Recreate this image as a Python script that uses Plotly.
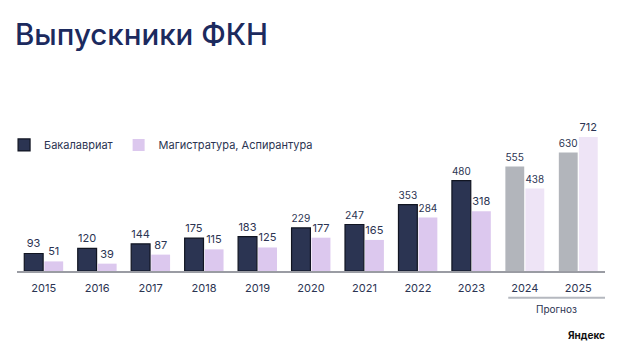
import plotly.graph_objects as go

years = ["2015", "2016", "2017", "2018", "2019", "2020", "2021", "2022", "2023", "2024", "2025"]
bachelor = [93, 120, 144, 175, 183, 229, 247, 353, 480, 555, 630]
master = [51, 39, 87, 115, 125, 177, 165, 284, 318, 438, 712]
forecast = [False] * 9 + [True] * 2

DARK = "#2b3452"
GREY = "#b2b5bb"
LAV = "#dcc8ee"
LAV_LIGHT = "#eee4f6"
TEXT = "#2b3452"
FONT = "Inter"

bach_colors = [GREY if f else DARK for f in forecast]
mast_colors = [LAV_LIGHT if f else LAV for f in forecast]
bach_lines = [0 if f else 1.2 for f in forecast]

fig = go.Figure()
fig.add_trace(go.Bar(
    x=years, y=bachelor, name="Бакалавриат",
    marker=dict(color=bach_colors, line=dict(color="#111522", width=bach_lines)),
    text=bachelor, textposition="outside", cliponaxis=False,
    textfont=dict(size=11, color=TEXT, family=FONT),
))
fig.add_trace(go.Bar(
    x=years, y=master, name="Магистратура, Аспирантура",
    marker=dict(color=mast_colors, line=dict(width=0)),
    text=master, textposition="outside", cliponaxis=False,
    textfont=dict(size=11, color=TEXT, family=FONT),
))

fig.update_layout(
    width=620, height=359,
    margin=dict(l=17, r=15, t=130, b=88, autoexpand=False),
    paper_bgcolor="white", plot_bgcolor="white",
    barmode="group", bargap=0.25, bargroupgap=0.06,
    font=dict(family=FONT, color=TEXT),
    title=dict(text="Выпускники ФКН", x=0, xref="container", xanchor="left",
               pad=dict(l=15), y=1 - 35 / 359, yref="container", yanchor="middle",
               font=dict(size=29.5, color="#1c2a5e", family=FONT, weight=500)),
    showlegend=True,
    legend=dict(orientation="h", x=-0.022, y=0.894, xanchor="left", yanchor="middle",
                font=dict(size=11, color=TEXT, family=FONT), bgcolor="rgba(0,0,0,0)"),
    xaxis=dict(showgrid=False, showline=True, linecolor="#9a9ca3", linewidth=1.5,
               ticks="outside", ticklen=6, tickcolor="white",
               tickfont=dict(size=11, color=TEXT, family=FONT), range=[-0.5, 10.5]),
    yaxis=dict(visible=False, range=[0, 749]),
)

fig.add_shape(type="line", xref="x", yref="paper", x0=8.69, x1=10.5, y0=-0.189, y1=-0.189,
              line=dict(color="#b5b8bf", width=2))
fig.add_annotation(text="Прогноз", xref="x", yref="paper", x=9.6, y=-0.27, yanchor="middle",
                   showarrow=False, font=dict(size=10, color=TEXT, family=FONT))
fig.add_annotation(text="<b>Яндекс</b>", xref="paper", yref="paper", x=1.003, y=-0.454,
                   xanchor="right", yanchor="middle", showarrow=False,
                   font=dict(size=10, color="#111", family=FONT))

fig.write_html("out.html", config={"displayModeBar": False},
               post_script="document.body.style.margin='0';document.body.style.padding='0';")
